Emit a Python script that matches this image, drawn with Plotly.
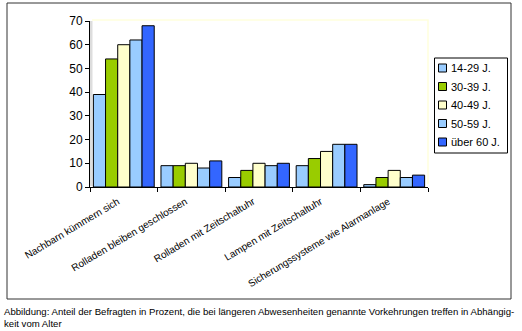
import plotly.graph_objects as go

categories = ["Nachbarn kümmern sich", "Rolladen bleiben geschlossen",
              "Rolladen mit Zeitschaltuhr", "Lampen mit Zeitschaltuhr",
              "Sicherungssysteme wie Alarmanlage"]
series_names = ["14-29 J.", "30-39 J.", "40-49 J.", "50-59 J.", "über 60 J."]
v_14_29 = [39, 9, 4, 9, 1]
v_30_39 = [54, 9, 7, 12, 4]
v_40_49 = [60, 10, 10, 15, 7]
v_50_59 = [62, 8, 9, 18, 4]
v_60 = [68, 11, 10, 18, 5]
series_values = [v_14_29, v_30_39, v_40_49, v_50_59, v_60]
colors = ["#99CCFF", "#99CC00", "#FFFFCC", "#99CCFF", "#3366FF"]
y_ticks = [0, 10, 20, 30, 40, 50, 60, 70]
caption = ("Abbildung: Anteil der Befragten in Prozent, die bei längeren Abwesenheiten genannte "
           "Vorkehrungen treffen in Abhängig-<br>keit vom Alter")

W, H = 522, 331
L, R, T, B = 90, 94, 21, 144
pw, ph = W - L - R, H - T - B

def px(x):
    return (x - L) / pw

def py(y):
    return (H - B - y) / ph

fig = go.Figure()
for name, vals, col in zip(series_names, series_values, colors):
    fig.add_trace(go.Bar(name=name, x=categories, y=vals, marker_color=col,
                         marker_line_color="#000000", marker_line_width=1,
                         showlegend=False))

font = "Arial, Liberation Sans, sans-serif"

shapes = [
    dict(type="rect", xref="paper", yref="paper",
         x0=px(7), x1=px(511), y0=py(299), y1=py(3),
         line=dict(color="#333333", width=1), fillcolor="rgba(0,0,0,0)", layer="below"),
    dict(type="rect", xref="paper", yref="paper",
         x0=px(90), x1=px(92.5), y0=py(186), y1=py(21),
         line=dict(width=0), fillcolor="#DDDDDD", layer="below"),
    dict(type="path", xref="paper", yref="paper",
         path=f"M {px(92)},{py(20)} L {px(428)},{py(20)} L {px(428)},{py(184)}",
         line=dict(color="#FFFFDD", width=1.5), layer="below"),
    # legend box
    dict(type="rect", xref="paper", yref="paper",
         x0=px(434.5), x1=px(507.5), y0=py(153), y1=py(58),
         line=dict(color="#000000", width=1), fillcolor="white", layer="above"),
]
annotations = [dict(text=caption, xref="paper", yref="paper", x=px(2), y=py(304),
                    xanchor="left", yanchor="top", showarrow=False, align="left",
                    font=dict(size=9.6, family=font, color="#000000"))]

leg_y0, leg_dy = 68, 18.5
for i, (name, col) in enumerate(zip(series_names, colors)):
    yc = leg_y0 + i * leg_dy
    shapes.append(dict(type="rect", xref="paper", yref="paper",
                       x0=px(438.5), x1=px(446.5), y0=py(yc + 4), y1=py(yc - 4),
                       line=dict(color="#000000", width=1), fillcolor=col, layer="above"))
    annotations.append(dict(text=name, xref="paper", yref="paper", x=px(449), y=py(yc),
                            xanchor="left", yanchor="middle", showarrow=False,
                            font=dict(size=11, family=font, color="#000000")))

fig.update_layout(
    width=W, height=H, margin=dict(l=L, r=R, t=T, b=B),
    paper_bgcolor="white", plot_bgcolor="white",
    barmode="group", bargap=0.1, bargroupgap=0,
    font=dict(family=font, size=11, color="#000000"),
    showlegend=False,
    xaxis=dict(showline=True, linecolor="#000000", linewidth=1,
               ticks="outside", ticklen=4, tickcolor="#000000",
               tickangle=-31, tickfont=dict(size=10, family=font),
               ticklabelshift=-6, ticklabelstandoff=4,
               showgrid=False, zeroline=False, fixedrange=True,
               tickson="boundaries"),
    yaxis=dict(range=[0, 70], tickvals=y_ticks, showline=True, linecolor="#000000",
               linewidth=1, ticks="outside", ticklen=4, tickcolor="#000000",
               showgrid=False, zeroline=False, tickfont=dict(size=12, family=font)),
    shapes=shapes,
    annotations=annotations,
)

fig.write_html("out.html")
